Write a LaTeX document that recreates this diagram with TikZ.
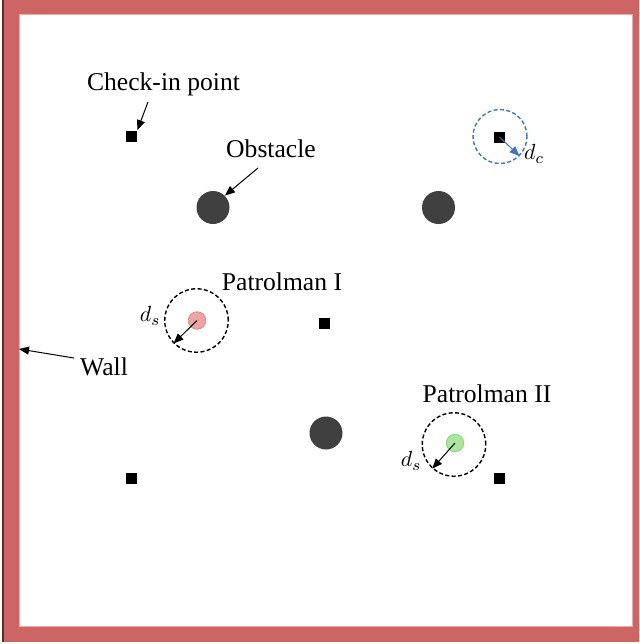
\documentclass[tikz,border=0pt]{standalone}
\usepackage{fontspec}
\setmainfont{Liberation Serif}
\usepackage{xcolor}
\usepackage{tikz}
\usetikzlibrary{arrows.meta, positioning}

\definecolor{wallred}{RGB}{205,101,101}
\definecolor{walledge}{RGB}{236,170,170}
\definecolor{obstgray}{RGB}{64,64,64}
\definecolor{patpink}{RGB}{236,165,165}
\definecolor{patpinkedge}{RGB}{222,135,135}
\definecolor{patgreen}{RGB}{170,230,160}
\definecolor{patgreenedge}{RGB}{140,212,130}
\definecolor{rangeblue}{RGB}{68,114,196}

\begin{document}
\begin{tikzpicture}[
    x=0.5pt,
    y=-0.5pt,
    tag/.style={
        font=\fontsize{12.8}{15}\selectfont,
        inner sep=0pt,
        anchor=base
    },
    distlabel/.style={
        font=\fontsize{11}{13}\selectfont,
        inner sep=0pt
    },
    checkpt/.style={
        rectangle,
        fill=black,
        minimum size=5.5pt,
        inner sep=0pt
    },
    obstacle/.style={
        circle,
        fill=obstgray,
        minimum size=16.5pt,
        inner sep=0pt
    },
    patrol/.style={
        circle,
        minimum size=8.75pt,
        inner sep=0pt,
        line width=0.4pt
    },
    rangering/.style={
        circle,
        draw,
        line width=0.7pt,
        dash pattern=on 2pt off 1.2pt,
        minimum size=31.75pt,
        inner sep=0pt
    },
    arrow/.style={
        -{Triangle[length=5pt, width=4pt]},
        line width=0.5pt
    }
]

\useasboundingbox (0,0) rectangle (639,644);

% wall
\fill[wallred] (3,0) rectangle (639,642);
\filldraw[fill=white, draw=walledge, line width=0.5pt] (19,14) rectangle (632,626);
\draw[black!55!wallred, line width=0.6pt] (3,0) -- (3,642);

% sensing and check-in ranges
\node[rangering] (ring1) at (196.5,320.5) {};
\node[rangering] (ring2) at (454,444.5) {};
\node[rangering, draw=rangeblue, minimum size=27pt] (ring3) at (500,136.5) {};

% check-in points
\node[checkpt] (cp1) at (131.5,136) {};
\node[checkpt] (cp2) at (499.5,137) {};
\node[checkpt] (cp3) at (324.5,323.5) {};
\node[checkpt] (cp4) at (131.5,478.5) {};
\node[checkpt] (cp5) at (499.5,478.5) {};

% obstacles
\node[obstacle] (ob1) at (213,207.5) {};
\node[obstacle] (ob2) at (438.5,207.5) {};
\node[obstacle] (ob3) at (326,433) {};

% patrolmen
\node[patrol, fill=patpink, draw=patpinkedge] (pat1) at (197,320.5) {};
\node[patrol, fill=patgreen, draw=patgreenedge] (pat2) at (455,443) {};

\draw[arrow] (pat1.center) -- (ring1.225);
\draw[arrow] (pat2.center) -- (ring2.228);
\draw[arrow, rangeblue] (cp2.center) -- (ring3.315);

% labels
\node[tag] (txtcheck) at (163.5,90) {Check-in point};
\node[tag] (txtobst) at (271,157) {Obstacle};
\node[tag] (txtpat1) at (282,290) {Patrolman I};
\node[tag] (txtpat2) at (487,402) {Patrolman II};
\node[tag] (txtwall) at (104,375) {Wall};

\node[distlabel] (ds1) at (150,316) {$d_s$};
\node[distlabel] (ds2) at (411,461) {$d_s$};
\node[distlabel] (dc) at (534,154) {$d_c$};

\coordinate (checktail) at (148,102);
\coordinate (obsttail) at (258,168);
\coordinate (walltail) at (74,358);
\coordinate (wallpt) at (19,349);

\draw[arrow] (checktail) -- (cp1.north east);
\draw[arrow] (obsttail) -- (ob1.north east);
\draw[arrow] (walltail) -- (wallpt);

\end{tikzpicture}
\end{document}
